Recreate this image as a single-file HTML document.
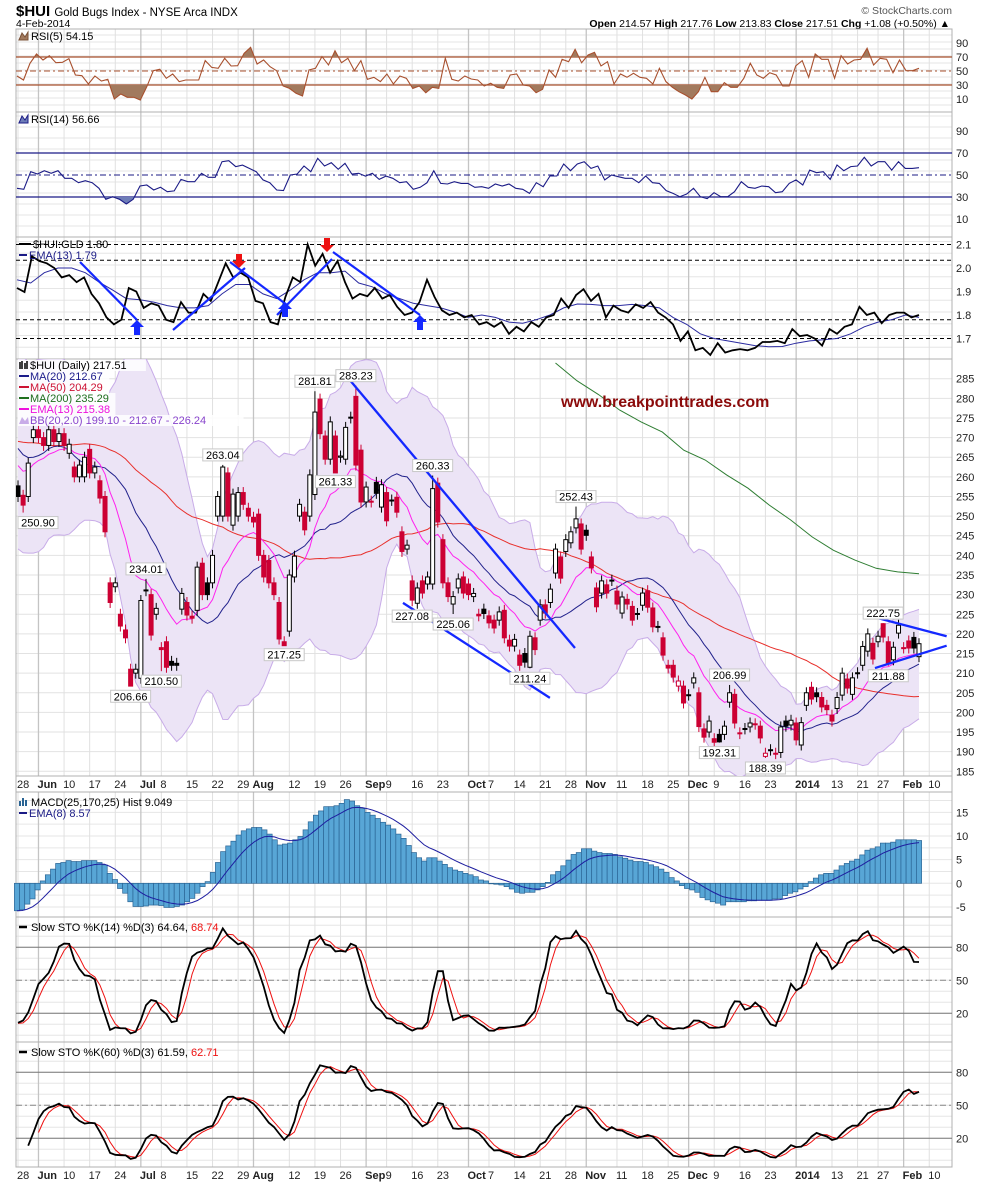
<!DOCTYPE html>
<html><head><meta charset="utf-8"><title>$HUI Gold Bugs Index</title>
<style>
html,body{margin:0;padding:0;background:#fff;}
svg{display:block;font-family:"Liberation Sans",Arial,sans-serif;}
</style></head>
<body>
<svg id="chart" width="990" height="1182" viewBox="0 0 990 1182" xmlns="http://www.w3.org/2000/svg">
  <rect x="0" y="0" width="990" height="1182" fill="#fff"/>
  <g>
    <text x="16" y="16" font-size="15" font-weight="bold" fill="#000">$HUI <tspan font-size="11.5" font-weight="normal">Gold Bugs Index - NYSE Arca INDX</tspan></text>
    <text x="16" y="27" font-size="10.5" fill="#000">4-Feb-2014</text>
    <text x="952" y="14" font-size="10.5" fill="#555" text-anchor="end">© StockCharts.com</text>
    <text x="950" y="27" font-size="10.5" fill="#000" text-anchor="end"><tspan font-weight="bold">Open</tspan> 214.57  <tspan font-weight="bold">High</tspan> 217.76  <tspan font-weight="bold">Low</tspan> 213.83  <tspan font-weight="bold">Close</tspan> 217.51  <tspan font-weight="bold">Chg</tspan> +1.08 (+0.50%) ▲</text>
  </g>
</svg>
<script>
// ---------------- DATA ----------------
const histCloses=[330,325,318,310,300,296,290,285,262,255,258,265,268,272,278,283,280,275,270,268,262,258,255,260,265,270,268,265,262,258,262,268,275,280,284,280,276,272,268,270,290,285,278,270,262,255,250,258,268,275,282,290,286,280,272,265,258,252,250,254];
const opens=[257.7,255.3,255,270,272,270,268,272,269,271,266,262.5,260,260,267,261,259,255,233,232,225,221,211,210,208.7,231,230,225,216.5,218,213,212.5,226.3,228,224.5,226,238,233,233,250,250,261,247.7,250,256,252,249.7,250.5,240,238.7,233,228,218,220.7,234.5,250,251,250,255.5,279.8,270.4,264.5,270.4,265,264.5,275,280.5,266.8,253.6,253.6,258.6,252.3,256,254,254.8,246,241.6,233.5,227.8,233.5,232.7,232.7,258.4,244,233,227.6,231.7,234.5,232.7,229.5,225,226.3,224.6,223.5,223.5,226,218.4,216.9,214.6,215,211.5,219,223.5,227.4,228,235.5,239.6,241,243.2,247,248,246.4,239.6,231.7,230.4,232.5,233.6,230.9,225.3,228.8,227,225.2,227.3,231,226.6,221.8,219,212,212,206.7,206.7,204.4,207.5,205,195.8,195,193.3,194.4,194.4,202.6,204.6,194.8,195.8,196.3,197.1,196.5,188.8,190.5,189.5,189.8,197.8,196.8,197.3,191.7,201.8,206.4,205,203.8,201.8,199.3,201,204.4,208.5,204.6,210,212,215.6,217.6,218,222.6,218,213.4,220.2,216.4,218.2,219.1,214.2];
const closes=[255,252.8,263.5,272,270,268,272,269,271,268,268.3,260,263,265,261,262.5,254.6,246,228,233,222,219,206.7,211,228.5,231.2,219.7,226.5,216,211.5,212,212,230.3,224.8,224,237,230,230,240,255,262.5,250,255.6,256,253,250,248.5,240,234.5,233,230,218.7,217,235,239.8,253,246.5,260.5,276.5,271,264.5,274,261,265.3,272.6,275.2,263,253.6,257.4,253.8,255.8,258,248.8,254.1,251,241,242.6,228.6,231.7,230.4,234.5,257,248.5,233,229.5,229.5,234,230.4,230,230.3,224.6,225.2,222.8,221.5,225.6,219,216.9,218.6,212,212.8,219.4,216,227.4,225.3,231.4,241.6,234.2,244,246,249.3,241.6,245.1,236.8,226.9,233.5,230.4,233.7,227.6,229.4,227.6,223.5,225,230.4,226.8,221.8,221.9,214.6,211.3,209,208,202.4,204.5,208.8,196.4,193.7,197.8,192.4,192.5,196.5,205,197.3,194.6,195.9,197.3,197,193.5,189.6,190.4,189.6,196.3,196.5,198,193,197.4,205,203.4,204,201.4,200.7,197.8,203.8,210,206.2,208.8,210.1,216.8,220,213.6,219.4,219.2,212.6,216.6,222.2,216.5,216.4,216.4,217.5];
// labelled extremes: candle index, value, H/L
const extremeIdx=[1,22,25,28,40,52,58,62,66,81,77,85,100,109,139,137,146,169,170];
const extremeVal=[250.90,206.66,234.01,210.50,263.04,217.25,281.81,261.33,283.23,260.33,227.08,225.06,211.24,252.43,206.99,192.31,188.39,222.75,211.88];
const extremeSide=['L','L','H','L','H','L','H','L','H','H','L','L','L','H','H','L','L','H','L'];
const ma200Start=105;
const ma200=[289,284.5,281,277,274,271.4,266.8,264.3,260.5,257.1,252.8,249,244.7,241.3,238.8,236.7,235.8,235.3];
const rsi5=[42.9,37.1,61,74.3,65.7,71.9,61.9,62.4,67.6,44.3,43.3,31.4,42.9,35.7,38.1,10,17.1,12.4,12.4,8.6,27.6,50.5,52.4,39.5,45.7,34.8,37.1,37.1,37.1,64.8,55.2,53.8,68.1,57.1,57.6,75.2,83.8,60,65.7,56.2,50.5,28.6,25.2,18.1,14.3,51.4,53.8,70.5,58.6,79,61.9,68.1,50.5,64.8,38.1,41,34.8,45.7,31.4,42.9,39.5,25.2,28.6,19,26.7,25.2,68.1,38.1,35.7,42.9,38.6,37.1,28.6,32.4,26.7,25.2,44.3,45.7,30,28.6,19,23.8,51.4,41,66.7,63.3,81,61.9,72.9,76.7,57.1,63.3,31.4,45.7,41,46.7,41,39.5,31.4,53.8,34.8,26.7,20.5,15.7,10,20.5,41,20.5,20.5,33.3,26.7,26.7,39.5,61,44.3,39.5,47.6,44.3,28.6,28.6,57.1,64.8,41,74.3,66.7,66.7,39.5,71.9,60,65.7,66.7,82.4,58.6,68.1,66.7,47.6,65.7,50.5,50.5,53.8];
const rsi14=[37.9,37,53,50.9,53.9,51.5,53.9,47,47,43,44.8,43,37.9,27.9,30.3,27.9,23.6,27.9,40,40.9,36.4,38.8,34.8,35.5,46,43.9,43.9,51.5,47.9,47.9,62.1,63,57.6,59,56,53,45.5,43,36.4,35.8,50,50.9,58.2,53,65.2,58.2,61.2,55.2,60.6,50.9,51.5,49,51.5,46,49,47,43,43.9,37,38.8,43,53.9,42.4,41.8,43.9,42.4,42.4,38.8,39.4,37.9,41.8,40,41.8,37.9,37,33.3,43,39.4,49.1,49.1,60,53.9,60,62.1,56,58.2,45.5,50,48.5,47,47,43,49.1,43,42.4,35.8,33.3,30.3,32.7,37.9,30.3,28.5,33.9,30.3,30.3,34.8,43.9,38.8,37.9,40,39.4,33.9,34.8,42.4,45.5,40.9,54.5,52.1,53,46,59.1,53.9,57.6,58.2,66.1,58.2,62.1,62.1,54.5,62.1,56,56,56.66];
const ratio=[1.915,1.898,2.05,2.03,2.02,2.0,1.96,1.97,1.94,1.96,1.89,1.85,1.79,1.76,1.78,1.915,1.9,1.83,1.85,1.84,1.78,1.77,1.855,1.81,1.81,1.89,1.86,1.94,2.02,1.96,1.98,1.96,1.86,1.85,1.77,1.76,1.877,1.96,1.94,2.10,2.01,2.06,1.98,2.03,1.94,1.87,1.89,1.88,1.915,1.87,1.885,1.835,1.80,1.81,1.855,1.95,1.877,1.82,1.80,1.81,1.79,1.80,1.76,1.77,1.75,1.77,1.72,1.75,1.73,1.77,1.75,1.79,1.80,1.87,1.83,1.885,1.91,1.86,1.89,1.79,1.84,1.82,1.81,1.845,1.83,1.855,1.81,1.79,1.76,1.69,1.73,1.65,1.66,1.63,1.68,1.64,1.65,1.655,1.65,1.66,1.685,1.685,1.69,1.68,1.74,1.71,1.715,1.70,1.67,1.74,1.72,1.75,1.76,1.835,1.80,1.81,1.765,1.80,1.81,1.81,1.79,1.80];
const ratioEma=[1.95,1.936,1.98,2.0,2.0,1.98,1.94,1.906,1.87,1.865,1.855,1.84,1.83,1.83,1.84,1.89,1.93,1.93,1.89,1.87,1.906,1.95,1.98,1.98,1.987,1.936,1.92,1.89,1.87,1.85,1.84,1.83,1.813,1.79,1.80,1.79,1.77,1.765,1.78,1.80,1.83,1.847,1.845,1.84,1.84,1.845,1.84,1.83,1.79,1.76,1.72,1.70,1.69,1.68,1.67,1.665,1.666,1.68,1.69,1.695,1.70,1.72,1.75,1.77,1.78,1.80,1.79];
const macd=[-5.8,-5.6,-4.4,-3.3,-1.4,0.5,1.8,3.0,4.2,4.4,4.8,4.6,4.6,4.8,4.8,4.8,4.4,3.9,2.1,0.8,-1.1,-2.1,-3.9,-4.9,-4.9,-4.8,-4.6,-4.6,-4.7,-5.1,-5.1,-4.9,-4.6,-3.9,-3.2,-2.1,-0.7,0.35,2.3,4.4,6.7,7.9,8.9,10.2,11.1,11.5,11.8,11.8,11.3,10.4,9.2,8.1,8.3,8.5,9.2,9.9,11.3,13,14.4,15.3,16.2,16.2,16.4,16.9,17.7,17.4,16.4,15.8,15,14.4,13.7,12.9,12.3,11.5,10.4,9.5,8,6.5,5.4,4.7,5.4,5.4,4.7,4,3.3,2.8,2.5,2.1,1.8,1.4,0.7,0.5,0,-0.2,-0.35,-0.7,-1.2,-1.9,-2.1,-1.9,-1.9,-1.4,-0.7,0.2,1.8,2.5,3.7,4.9,6.1,6.5,7.3,7.3,6.8,6.5,6.3,6.3,6.1,5.6,5.3,4.9,4.6,4.6,4.4,3.9,3.5,3.0,2.3,1.2,0.5,-0.5,-1.1,-1.4,-1.9,-3.0,-3.5,-3.9,-4.2,-4.6,-3.9,-3.9,-3.9,-3.9,-3.7,-3.7,-3.6,-3.6,-3.6,-3.3,-3.2,-2.6,-2.1,-1.8,-1.2,-0.7,0.35,1.1,1.8,2.1,2.1,2.8,3.7,4.2,4.7,5.1,6,7,7.3,7.7,8.5,8.5,8.7,9.2,9.2,9.2,9.2,9.049];
const xLabels=["28","Jun","10","17","24","Jul","8","15","22","29","Aug","12","19","26","Sep","9","16","23","Oct","7","14","21","28","Nov","11","18","25","Dec","9","16","23","2014","13","21","27","Feb","10"];
const xLabelIdx=[0,4,9,14,19,24,28,33,38,43,46,53,58,63,68,72,77,82,88,92,97,102,107,111,117,122,127,131,136,141,146,152,159,164,168,173,178];
const monthLabels=["Jun","Jul","Aug","Sep","Oct","Nov","Dec","2014","Feb"];
const priceTicks=[285,280,275,270,265,260,255,250,245,240,235,230,225,220,215,210,205,200,195,190,185];
const rsiTicks=[90,70,50,30,10];
const ratioTicks=[2.1,2.0,1.9,1.8,1.7];
const macdTicks=[15,10,5,0,-5];
const stoTicks=[80,50,20];
// trendlines (candle index, price)
const trendDown=[[63.5,286.7],[108.8,216.4]];
const trendLow=[[75.2,227.9],[103.9,203.7]];
const trendTop=[[168,224],[181.4,219.4]];
const trendBot=[[167.4,211.3],[181.4,217]];

// ---------------- GEOMETRY ----------------
const NS="http://www.w3.org/2000/svg";
const svg=document.getElementById('chart');
const L=16,R=952;
const N=closes.length;
const X0=18,X1=919;
function X(i){return X0+i*(X1-X0)/(N-1);}
function XS(k,len){return X0-1+k*(X1-X0+1)/(len-1);}
const yP=v=>378.7+(285-v)*3.926;
const yR5=v=>71-(v-50)*0.7;
const yR14=v=>175-(v-50)*1.1;
const yRat=v=>315-(v-1.8)*235;
const yM=v=>883.3-v*4.73;
const yS14=v=>980.3-(v-50)*1.1;
const yS60=v=>1105.3-(v-50)*1.1;
const panels={rsi5:[29,112],rsi14:[112,237],ratio:[237,359],price:[359,776],macd:[792,917],sto14:[917,1042],sto60:[1042,1167]};

function mk(tag,attrs,parent){const e=document.createElementNS(NS,tag);for(const k in attrs)e.setAttribute(k,attrs[k]);(parent||svg).appendChild(e);return e;}
function group(name){const g=mk('g',{});


return g;}
function pts(arr){return arr.map(p=>p[0].toFixed(1)+','+p[1].toFixed(1)).join(' ');}

// ---------------- DERIVED ----------------
const H=histCloses.length;
const all=histCloses.concat(closes);
function sma(k,i){let s=0;for(let j=H+i-k+1;j<=H+i;j++)s+=all[j];return s/k;}
function sd(k,i){const m=sma(k,i);let s=0;for(let j=H+i-k+1;j<=H+i;j++)s+=(all[j]-m)*(all[j]-m);return Math.sqrt(s/k);}
const highs=[],lows=[];
for(let i=0;i<N;i++){highs.push(Math.max(opens[i],closes[i])+1.4);lows.push(Math.min(opens[i],closes[i])-1.4);}
extremeIdx.forEach((ix,k)=>{if(extremeSide[k]==='H')highs[ix]=extremeVal[k];else lows[ix]=extremeVal[k];});
const allH=histCloses.map(c=>c+2).concat(highs), allL=histCloses.map(c=>c-2).concat(lows);
const ema13=[];{let e=all[0];const a=2/14;for(let j=0;j<all.length;j++){e=j?e+a*(all[j]-e):all[j];if(j>=H)ema13.push(e);}}
function stoch(n){const fk=[];for(let j=n;j<all.length;j++){let hh=-1e9,ll=1e9;for(let q=j-n+1;q<=j;q++){hh=Math.max(hh,allH[q]);ll=Math.min(ll,allL[q]);}fk.push({j,v:100*(all[j]-ll)/(hh-ll||1)});}
 const sk=[];for(let t=2;t<fk.length;t++)sk.push({j:fk[t].j,v:(fk[t].v+fk[t-1].v+fk[t-2].v)/3});
 const sdv=[];for(let t=2;t<sk.length;t++)sdv.push({j:sk[t].j,v:(sk[t].v+sk[t-1].v+sk[t-2].v)/3});
 const K=sk.filter(p=>p.j>=H).map(p=>[X(p.j-H),p.v]);const D=sdv.filter(p=>p.j>=H).map(p=>[X(p.j-H),p.v]);return {K,D};}
const macdSig=[];{let e=macd[0];const a=2/9;macd.forEach((v,k)=>{e=k?e+a*(v-e):v;macdSig.push(e);});}

// ---------------- GRID / FRAMES ----------------
const gGrid=group('grid-lines');
function hlines(top,bot,step){for(let y=bot-step;y>top+1;y-=step)mk('line',{x1:L,x2:R,y1:y,y2:y,stroke:'#e6e6e6','stroke-width':1},gGrid);}
hlines(29,112,7);hlines(112,237,11);hlines(237,359,11.75);
priceTicks.forEach(v=>mk('line',{x1:L,x2:R,y1:yP(v),y2:yP(v),stroke:'#e2e2e2'},gGrid));
for(let v=-7.5;v<=20;v+=2.5)if(yM(v)>793&&yM(v)<916)mk('line',{x1:L,x2:R,y1:yM(v),y2:yM(v),stroke:'#e6e6e6'},gGrid);
for(let v=0;v<=100;v+=10){mk('line',{x1:L,x2:R,y1:yS14(v),y2:yS14(v),stroke:'#e6e6e6'},gGrid);mk('line',{x1:L,x2:R,y1:yS60(v),y2:yS60(v),stroke:'#e6e6e6'},gGrid);}
xLabelIdx.forEach((ix,k)=>{const x=X(ix);if(x>R)return;const major=monthLabels.includes(xLabels[k]);
 Object.values(panels).forEach(p=>{mk('line',{x1:x,x2:x,y1:p[0],y2:p[1],stroke:major?'#c4c4c4':'#e0e0e0','stroke-width':major?1.3:1},gGrid);});});
const gFrame=group('panel-frames');
Object.entries(panels).forEach(([n,p])=>{const r=mk('rect',{x:L,y:p[0],width:R-L,height:p[1]-p[0],fill:'none',stroke:'#b0b0b0'},gFrame);

});
mk('rect',{x:L,y:776,width:R-L,height:16,fill:'none',stroke:'#b0b0b0'},gFrame);
mk('line',{x1:L,x2:R,y1:1167,y2:1167,stroke:'#b0b0b0'},gFrame);

function ticks(arr,fy,name,fmt){const g=group(name);arr.forEach(v=>{const t=mk('text',{x:956,y:fy(v)+4,'font-size':11,fill:'#222'},g);t.textContent=fmt?fmt(v):v;});}
ticks(rsiTicks,yR5,'rsi5-y-axis');ticks(rsiTicks,yR14,'rsi14-y-axis');ticks(ratioTicks,yRat,'ratio-y-axis',v=>v.toFixed(1));
ticks(priceTicks,yP,'price-y-axis');ticks(macdTicks,yM,'macd-y-axis');ticks(stoTicks,yS14,'sto14-y-axis');ticks(stoTicks,yS60,'sto60-y-axis');
function xaxis(y,name){const g=group(name);xLabels.forEach((s,k)=>{const x=X(xLabelIdx[k]);if(x>R-8)return;const major=monthLabels.includes(s);
 const t=mk('text',{x:x-1,y:y,'font-size':11,'font-weight':major?'bold':'normal',fill:'#222'},g);t.textContent=s;});}
xaxis(788,'x-axis-top');xaxis(1179,'x-axis-bottom');

// ---------------- RSI ----------------
function refLine(g,y,color,dash,w){mk('line',{x1:L,x2:R,y1:y,y2:y,stroke:color,'stroke-width':w||1,'stroke-dasharray':dash||'none'},g);}
function clip(id,x,y,w,h){const d=mk('clipPath',{id});mk('rect',{x,y,width:w,height:h},d);}
function rsiPanel(arr,fy,color,fill,name,top,bot){
 const g=group(name);
 refLine(g,fy(70),color,null,1.2);refLine(g,fy(30),color,null,1.2);refLine(g,fy(50),color,'6,3,2,3');
 const p=arr.map((v,k)=>[XS(k,arr.length),fy(v)]);
 clip(name+'-hi',L,top,R-L,fy(70)-top);clip(name+'-lo',L,fy(30),R-L,bot-fy(30));
 const up=mk('polygon',{points:pts(p.concat([[p[p.length-1][0],fy(70)],[p[0][0],fy(70)]])),fill:fill,'clip-path':'url(#'+name+'-hi)'},g);
 
 
 const dn=mk('polygon',{points:pts(p.concat([[p[p.length-1][0],fy(30)],[p[0][0],fy(30)]])),fill:fill,'clip-path':'url(#'+name+'-lo)'},g);
 
 
 const l=mk('polyline',{points:pts(p),fill:'none',stroke:color,'stroke-width':1.1},g);
 
 
}
rsiPanel(rsi5,yR5,'#A8502E','#A27A5E','rsi5',29,112);
rsiPanel(rsi14,yR14,'#1B1B86','#6E7DB8','rsi14',112,237);
{const g=group('rsi-legends');
 mk('path',{d:'M19,40 L22,33 L25,37 L28,32 L28,40 Z',fill:'#A27A5E',stroke:'#7a5036'},g);
 let t=mk('text',{x:31,y:40,'font-size':11,fill:'#000'},g);t.textContent='RSI(5) 54.15';
 
 
 mk('path',{d:'M19,123 L22,116 L25,120 L28,115 L28,123 Z',fill:'#6E7DB8',stroke:'#1B1B86'},g);
 t=mk('text',{x:31,y:123,'font-size':11,fill:'#000'},g);t.textContent='RSI(14) 56.66';
 
 }

// ---------------- RATIO PANEL ----------------
{const g=group('hui-gld-ratio-panel');
 [2.1,2.033,1.78,1.70].forEach(v=>refLine(g,yRat(v),'#000','4,3'));
 const e=mk('polyline',{points:pts(ratioEma.map((v,k)=>[XS(k,ratioEma.length),yRat(v)])),fill:'none',stroke:'#2a2aa0','stroke-width':1},g);
 
 
 const l=mk('polyline',{points:pts(ratio.map((v,k)=>[XS(k,ratio.length),yRat(v)])),fill:'none',stroke:'#000','stroke-width':1.8},g);
 
 
 [[80,262,137,320],[173,330,245,268],[230,262,287,305],[277,315,332,259],[333,252,420,315]].forEach(s=>{
  const a=mk('line',{x1:s[0],y1:s[1],x2:s[2],y2:s[3],stroke:'#1428ff','stroke-width':2.2},g);
  
  });
 [[137,320],[285,302],[420,315]].forEach(p=>{const a=mk('path',{d:`M${p[0]},${p[1]} l7,7 h-4 v8 h-6 v-8 h-4 z`,fill:'#1428ff'},g);
  
  });
 [[239,268],[327,252]].forEach(p=>{const a=mk('path',{d:`M${p[0]},${p[1]} l7,-7 h-4 v-7 h-6 v7 h-4 z`,fill:'#ee1111'},g);
  
  });
 mk('line',{x1:19,x2:31,y1:244,y2:244,stroke:'#000','stroke-width':2},g);
 let t=mk('text',{x:33,y:248,'font-size':11,fill:'#000'},g);t.textContent='$HUI:GLD 1.80';
 
 
 mk('line',{x1:19,x2:27,y1:255,y2:255,stroke:'#1B1B86','stroke-width':2},g);
 t=mk('text',{x:29,y:259,'font-size':11,fill:'#1B1B86'},g);t.textContent='EMA(13) 1.79';
 
 }

// ---------------- PRICE PANEL ----------------
clip('priceclip',L,359,R-L,417);
const gP=mk('g',{'clip-path':'url(#priceclip)'});


{const up=[],lo=[],mid=[];for(let i=0;i<N;i++){const m=sma(20,i),s=sd(20,i);up.push([X(i),yP(m+2*s)]);lo.push([X(i),yP(m-2*s)]);mid.push([X(i),yP(m)]);}
 const bb=mk('polygon',{points:pts(up.concat(lo.slice().reverse())),fill:'#ECE4F6',stroke:'none'},gP);
 
 
 const bu=mk('polyline',{points:pts(up),fill:'none',stroke:'#C8ACE8'},gP);
 
 
 const bl=mk('polyline',{points:pts(lo),fill:'none',stroke:'#C8ACE8'},gP);
 
 
 const m200=mk('polyline',{points:pts(ma200.map((v,k)=>[X(ma200Start+k*(N-1-ma200Start)/(ma200.length-1)),yP(v)])),fill:'none',stroke:'#2E7D32','stroke-width':1},gP);
 
 
 const m50=mk('polyline',{points:pts(closes.map((c,i)=>[X(i),yP(sma(50,i))])),fill:'none',stroke:'#E8302C','stroke-width':1},gP);
 
 
 const m20=mk('polyline',{points:pts(mid),fill:'none',stroke:'#22228C','stroke-width':1},gP);
 
 
 const e13=mk('polyline',{points:pts(ema13.map((v,i)=>[X(i),yP(v)])),fill:'none',stroke:'#FF22EE','stroke-width':1},gP);
 
 }
{const g=mk('g',{},gP);
 
 
 for(let i=0;i<N;i++){const prev=i?closes[i-1]:histCloses[H-1];const col=closes[i]>=prev?'#000':'#CC0033';const x=X(i);
  const w=mk('line',{x1:x,x2:x,y1:yP(highs[i]),y2:yP(lows[i]),stroke:col,'stroke-width':1},g);
  
  
  const t=yP(Math.max(opens[i],closes[i])),b=yP(Math.min(opens[i],closes[i]));
  const hollow=closes[i]>=opens[i];
  const r=mk('rect',{x:x-2,y:t,width:4,height:Math.max(1,b-t),fill:hollow?'#fff':col,stroke:col,'stroke-width':1},g);
  
  }}
[trendDown,trendLow,trendTop,trendBot].forEach(t=>{const l=mk('line',{x1:X(t[0][0]),y1:yP(t[0][1]),x2:X(t[1][0]),y2:yP(t[1][1]),stroke:'#1428ff','stroke-width':2.3},gP);
 
 });
extremeIdx.forEach((ix,k)=>{const v=extremeVal[k];const s=v.toFixed(2);const w=s.length*6+4;
 const x=Math.max(L+w/2+2,X(ix));
 const yy=extremeSide[k]==='H'?yP(v)-16:yP(v)+4;
 const g=mk('g',{},gP);
 
 
 mk('rect',{x:x-w/2,y:yy,width:w,height:12,fill:'#fff',stroke:'#c8c8c8'},g);
 const t=mk('text',{x:x,y:yy+10,'font-size':11,'text-anchor':'middle',fill:'#000'},g);t.textContent=s;});
{const t=mk('text',{x:561,y:407,'font-size':16,'font-weight':'bold',fill:'#8B0A0A'},gP);t.textContent='www.breakpointtrades.com';
 
 }
{const g=mk('g',{},gP);
 
 
 const items=[['$HUI (Daily) 217.51','#000'],['MA(20) 212.67','#1a1a8a'],['MA(50) 204.29','#cc1133'],['MA(200) 235.29','#1e6e1e'],['EMA(13) 215.38','#ee11dd'],['BB(20,2.0) 199.10 - 212.67 - 226.24','#8844cc']];
 items.forEach((it,k)=>{const y=369+k*11;const tw=it[0].length*6.1+12;
  mk('rect',{x:18,y:y-9,width:tw,height:11,fill:'#fff','fill-opacity':0.85},g);
  if(k===0)mk('path',{d:`M20,${y-7} v7 M22,${y-8} v8 M25,${y-6} v6 M27,${y-8} v8`,stroke:'#000','stroke-width':1.5},g);
  else if(k===5)mk('path',{d:`M19,${y} L22,${y-7} L25,${y-3} L28,${y-7} L29,${y} Z`,fill:'#C8ACE8'},g);
  else mk('line',{x1:19,x2:29,y1:y-4,y2:y-4,stroke:it[1],'stroke-width':2},g);
  const t=mk('text',{x:30,y:y,'font-size':11,fill:it[1]},g);t.textContent=it[0];});}

// ---------------- MACD ----------------
{const g=group('macd-panel');
 macd.forEach((v,k)=>{const x=XS(k,macd.length);const y0=yM(0),y1=yM(v);
  const b=mk('rect',{x:x-2.6,y:Math.min(y0,y1),width:5.2,height:Math.max(0.5,Math.abs(y1-y0)),fill:'#58A6D6',stroke:'#2A6494','stroke-width':0.7},g);
  
  });
 const s=mk('polyline',{points:pts(macdSig.map((v,k)=>[XS(k,macd.length),yM(v)])),fill:'none',stroke:'#1e1ea0','stroke-width':1},g);
 
 
 mk('path',{d:'M20,806 v-5 M23,806 v-8 M26,806 v-6',stroke:'#2A6494','stroke-width':2},g);
 let t=mk('text',{x:31,y:806,'font-size':11,fill:'#000'},g);t.textContent='MACD(25,170,25) Hist 9.049';
 
 
 mk('line',{x1:19,x2:27,y1:813,y2:813,stroke:'#1B1B86','stroke-width':2},g);
 t=mk('text',{x:29,y:817,'font-size':11,fill:'#1B1B86'},g);t.textContent='EMA(8) 8.57';
 
 }

// ---------------- STOCHASTICS ----------------
function stoPanel(n,fy,name,label,kv,dv,top){
 const g=group(name);
 refLine(g,fy(80),'#777');refLine(g,fy(20),'#777');refLine(g,fy(50),'#888','6,3,2,3');
 const s=stoch(n);
 const d=mk('polyline',{points:pts(s.D.map(p=>[p[0],fy(p[1])])),fill:'none',stroke:'#ee1111','stroke-width':1},g);
 
 
 const k=mk('polyline',{points:pts(s.K.map(p=>[p[0],fy(p[1])])),fill:'none',stroke:'#000','stroke-width':1.8},g);
 
 
 mk('line',{x1:19,x2:27,y1:top+10,y2:top+10,stroke:'#000','stroke-width':2.5},g);
 const t=mk('text',{x:31,y:top+14,'font-size':11,fill:'#000'},g);
 t.textContent=label+' '+kv+', ';
 const ts=mk('tspan',{fill:'#ee1111'},t);ts.textContent=dv;
 
 
}
stoPanel(14,yS14,'slow-sto-14','Slow STO %K(14) %D(3)','64.64','68.74',917);
stoPanel(60,yS60,'slow-sto-60','Slow STO %K(60) %D(3)','61.59','62.71',1042);
</script>
</body></html>
